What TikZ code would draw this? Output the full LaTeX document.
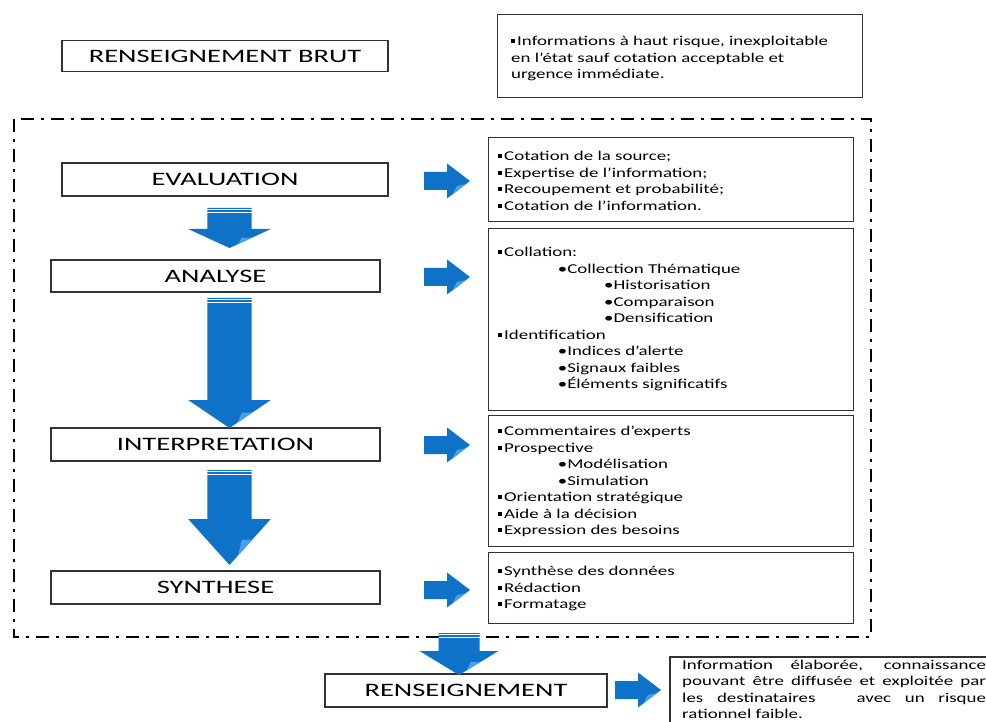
\documentclass[tikz,border=0pt]{standalone}
\usepackage{fontspec}
\setmainfont{Carlito}
\usepackage{graphicx}
\definecolor{arrowblue}{RGB}{14,114,200}
\definecolor{arrowlight}{RGB}{70,160,235}
\definecolor{boxline}{RGB}{50,50,50}
\newcommand{\lblfont}{\fontsize{19}{22}\selectfont}
\newcommand{\boxfont}{\fontsize{13.5}{16.5}\selectfont}
\newcommand{\sxl}[1]{\scalebox{1.5}[1]{#1}}
\newcommand{\sxt}[1]{\scalebox{1.4}[1]{#1}}
\newcommand{\sqb}{\raisebox{2.4pt}{\rule{3pt}{4pt}}\hspace{1.3pt}}
\newcommand{\lvA}{\hspace*{42.6pt}•}
\newcommand{\lvB}{\hspace*{75.7pt}•}
\newcommand{\blkdown}[6]{% xc, top, headbase, tip, shaft half, head half
  \fill[arrowblue] (#1-#5,#2) -- (#1+#5,#2) -- (#1+#5,#3) -- (#1+#6,#3) -- (#1,#4) -- (#1-#6,#3) -- (#1-#5,#3) -- cycle;
  \fill[arrowlight] (#1+0.55*#6,#3+0.45*#4-0.45*#3) -- (#1+0.2*#6,#3+0.8*#4-0.8*#3) -- (#1+0.3*#6,#3+0.45*#4-0.45*#3) -- cycle;
  \draw[white, line width=0.7pt] (#1-#5,#2+1.8) -- (#1+#5,#2+1.8);
  \draw[white, line width=0.7pt] (#1-#5,#2+4.2) -- (#1+#5,#2+4.2);
}
\newcommand{\blkright}[2]{% left x, center y
  \fill[arrowblue] (#1,#2-9) -- (#1+23,#2-9) -- (#1+23,#2-17.5) -- (#1+46,#2) -- (#1+23,#2+17.5) -- (#1+23,#2+9) -- (#1,#2+9) -- cycle;
  \fill[arrowlight] (#1+42,#2+3) -- (#1+28,#2+14) -- (#1+33,#2+5) -- cycle;
}
\begin{document}
\begin{tikzpicture}[x=1pt,y=-1pt,
  lbl/.style={draw=boxline, line width=1.2pt, minimum height=32pt, inner sep=0pt, font=\lblfont},
  rbox/.style={draw=boxline, line width=1.2pt, minimum width=365pt, inner sep=0pt, anchor=north west},
  btxt/.style={inner sep=0pt, anchor=north west, font=\boxfont, align=left},
  frame/.style={line width=2.5pt, dash pattern=on 13pt off 7pt on 3pt off 7pt}]
\useasboundingbox (0,0) rectangle (986,722);
\fill[white] (0,0) rectangle (986,722);

% left labels
\node[lbl, minimum width=326pt, minimum height=31pt] (brut) at (225,56) {\sxl{RENSEIGNEMENT BRUT}};
\node[lbl, minimum width=326pt, minimum height=33pt] (eval) at (225,179.5) {\sxl{EVALUATION}};
\node[lbl, minimum width=329pt] (anal) at (215.5,276) {\sxl{ANALYSE}};
\node[lbl, minimum width=329pt, minimum height=33pt] (interp) at (215.5,444.5) {\sxl{INTERPRETATION}};
\node[lbl, minimum width=329pt, minimum height=33pt] (synth) at (215.5,587.5) {\sxl{SYNTHESE}};
\node[lbl, minimum width=282pt, minimum height=33pt] (rens) at (466,690.5) {\sxl{RENSEIGNEMENT}};

% top right box
\node[rbox, minimum height=83pt] (b0) at (497,14) {};
\node[btxt] (t0) at (511,34) {\sxt{\begin{tabular}{@{}l@{}}\sqb Informations à haut risque, inexploitable\\en l’état sauf cotation acceptable et\\urgence immédiate.\end{tabular}}};

% frame
\draw[frame] (14,119) rectangle (871,637);

% right boxes
\node[rbox, minimum height=84pt] (b1) at (488,137) {};
\node[rbox, minimum height=182pt] (b2) at (488,228) {};
\node[rbox, minimum height=131pt] (b3) at (488,415) {};
\node[rbox, minimum height=71pt] (b4) at (488,552) {};

\node[btxt] (t1) at (498,149) {\sxt{\begin{tabular}{@{}l@{}}\sqb Cotation de la source;\\\sqb Expertise de l’information;\\\sqb Recoupement et probabilité;\\\sqb Cotation de l’information.\end{tabular}}};
\node[btxt] (t2) at (498,245) {\sxt{\begin{tabular}{@{}l@{}}\sqb Collation:\\\lvA Collection Thématique\\\lvB Historisation\\\lvB Comparaison\\\lvB Densification\\\sqb Identification\\\lvA Indices d’alerte\\\lvA Signaux faibles\\\lvA Éléments significatifs\end{tabular}}};
\node[btxt] (t3) at (498,424) {\sxt{\begin{tabular}{@{}l@{}}\sqb Commentaires d’experts\\\sqb Prospective\\\lvA Modélisation\\\lvA Simulation\\\sqb Orientation stratégique\\\sqb Aide à la décision\\\sqb Expression des besoins\end{tabular}}};
\node[btxt] (t4) at (498,564) {\sxt{\begin{tabular}{@{}l@{}}\sqb Synthèse des données\\\sqb Rédaction\\\sqb Formatage\end{tabular}}};

% final box
\draw[boxline, line width=1.2pt] (995,657) -- (670,657) -- (670,730);
\node[btxt] (t5) at (682,657.5) {\sxt{\begin{tabular}{@{}l@{}}\makebox[217pt][s]{Information élaborée, connaissance}\\\makebox[217pt][s]{pouvant être diffusée et exploitée par}\\\makebox[217pt][s]{les destinataires \ \ avec un risque}\\rationnel faible.\end{tabular}}};

% down arrows
\blkdown{229.5}{208}{229}{248}{22.2}{41.3}
\blkdown{229.5}{298}{400}{428}{22.2}{41.3}
\blkdown{229.5}{470}{519}{565}{22.2}{41.3}
\blkdown{459}{633}{651}{675}{20.5}{39.5}

% right arrows
\blkright{424}{181}
\blkright{424}{277}
\blkright{424}{445}
\blkright{424}{590}
\blkright{615}{690}
\end{tikzpicture}
\end{document}
